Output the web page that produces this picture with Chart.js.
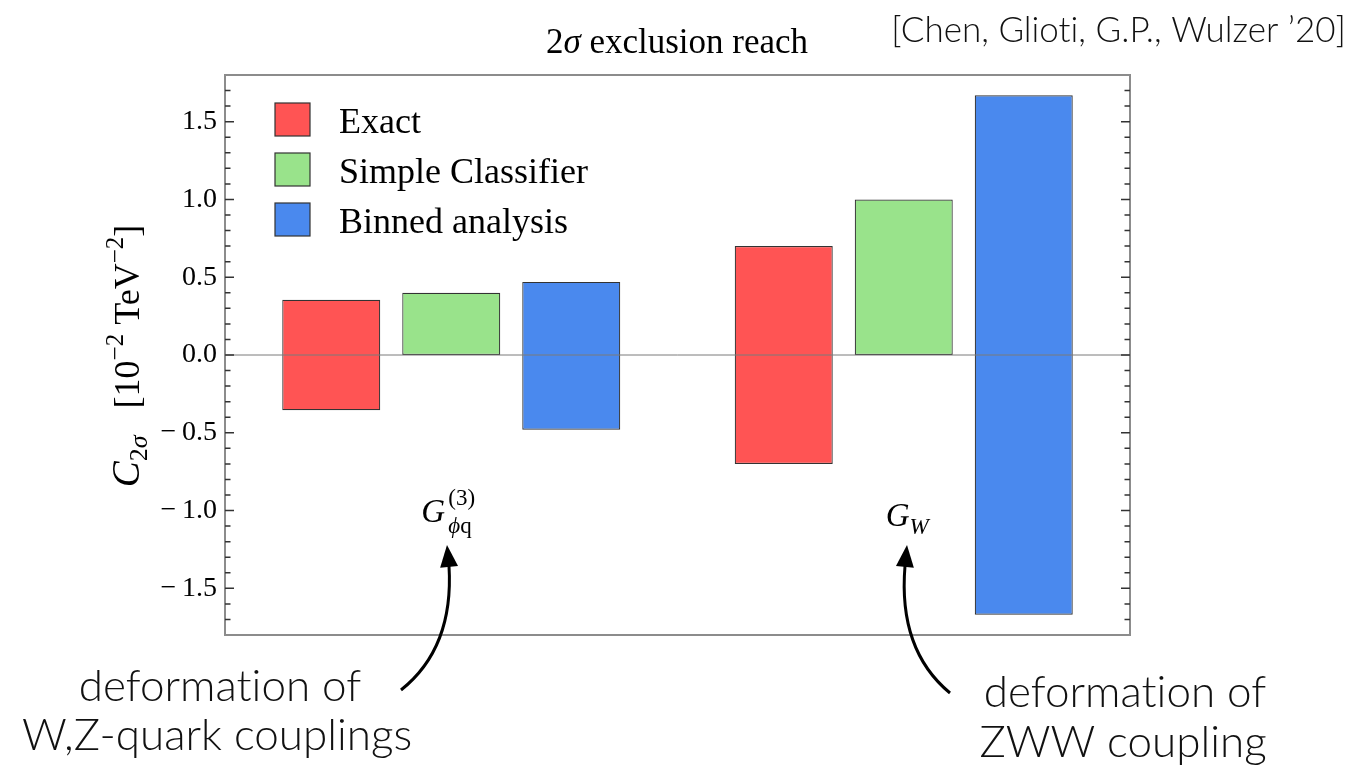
<!DOCTYPE html>
<html>
<head>
<meta charset="utf-8">
<script src="https://cdn.jsdelivr.net/npm/chart.js@4.4.0/dist/chart.umd.min.js"></script>
<style>
  html, body { margin: 0; background: #fff; }
  #wrap { width: 1356px; height: 770px; position: relative; }
</style>
</head>
<body>
<div id="wrap"><canvas id="chart"></canvas></div>
<script>
// values (units: 10^-2 TeV^-2)
const categories = ['G_phiq3', 'G_W'];
const seriesNames = ['Exact', 'Simple Classifier', 'Binned analysis'];
const exactLow = [-0.355, -0.70];
const exactHigh = [0.355, 0.70];
const simpleLow = [0, 0];
const simpleHigh = [0.40, 1.00];
const binnedLow = [-0.48, -1.67];
const binnedHigh = [0.47, 1.67];
const yMajorTicks = [-1.5, -1.0, -0.5, 0.0, 0.5, 1.0, 1.5];
const yTickLabels = ['\u2212\u20091.5', '\u2212\u20091.0', '\u2212\u20090.5', '0.0', '0.5', '1.0', '1.5'];
const colors = ['#ff5454', '#99e38b', '#4a89ee'];

const SERIF = '"Liberation Serif", "DejaVu Serif", serif';
const SANS = 'Lato, "Open Sans", sans-serif';
const NL = '\u200c'; // keeps Lato from joining "ti"

const pairs = (lo, hi) => lo.map((v, i) => [v, hi[i]]);

// draws a list of text pieces: {t, size, italic, dy}
function richText(ctx, parts, x, y, align) {
  let total = 0;
  parts.forEach(p => {
    ctx.font = (p.italic ? 'italic ' : '') + p.size + 'px ' + SERIF;
    p.w = ctx.measureText(p.t).width;
    total += p.w;
  });
  let cx = align === 'center' ? x - total / 2 : x;
  ctx.textAlign = 'left';
  ctx.textBaseline = 'alphabetic';
  parts.forEach(p => {
    ctx.font = (p.italic ? 'italic ' : '') + p.size + 'px ' + SERIF;
    ctx.fillText(p.t, cx, y + (p.dy || 0));
    cx += p.w;
  });
}

function arrow(ctx, x0, y0, cx, cy, x1, y1, tx, ty) {
  ctx.beginPath();
  ctx.moveTo(x0, y0);
  ctx.quadraticCurveTo(cx, cy, x1, y1);
  ctx.lineWidth = 3;
  ctx.strokeStyle = '#000';
  ctx.stroke();
  const ang = Math.atan2(ty - y1, tx - x1);
  const len = 22, half = 9;
  ctx.beginPath();
  ctx.moveTo(tx, ty);
  ctx.lineTo(tx - len * Math.cos(ang) + half * Math.sin(ang), ty - len * Math.sin(ang) - half * Math.cos(ang));
  ctx.lineTo(tx - len * Math.cos(ang) - half * Math.sin(ang), ty - len * Math.sin(ang) + half * Math.cos(ang));
  ctx.closePath();
  ctx.fillStyle = '#000';
  ctx.fill();
}

const decor = {
  id: 'decor',
  afterDatasetsDraw(chart) {
    const { ctx, chartArea: a, scales: { x, y } } = chart;
    ctx.save();

    // zero line
    const y0 = y.getPixelForValue(0);
    ctx.strokeStyle = '#7a7a7a';
    ctx.lineWidth = 1;
    ctx.beginPath();
    ctx.moveTo(a.left, y0);
    ctx.lineTo(a.right, y0);
    ctx.stroke();

    // frame
    ctx.strokeStyle = '#8c8c8c';
    ctx.lineWidth = 2;
    ctx.strokeRect(a.left, a.top, a.right - a.left, a.bottom - a.top);

    // inward ticks, minor every 0.1
    ctx.strokeStyle = '#333';
    ctx.lineWidth = 1.5;
    for (let i = -17; i <= 17; i++) {
      const p = y.getPixelForValue(i / 10);
      const len = i % 5 === 0 ? 9 : 5.5;
      ctx.beginPath();
      ctx.moveTo(a.left, p);
      ctx.lineTo(a.left + len, p);
      ctx.moveTo(a.right, p);
      ctx.lineTo(a.right - len, p);
      ctx.stroke();
    }

    // legend inside the frame
    chart.data.datasets.forEach((ds, i) => {
      const bx = a.left + 50, by = a.top + 28 + i * 50;
      ctx.fillStyle = ds.backgroundColor;
      ctx.fillRect(bx, by, 35, 33);
      ctx.strokeStyle = '#333';
      ctx.lineWidth = 1.2;
      ctx.strokeRect(bx, by, 35, 33);
      ctx.fillStyle = '#000';
      ctx.font = '36px ' + SERIF;
      ctx.textAlign = 'left';
      ctx.textBaseline = 'middle';
      ctx.fillText(ds.label, bx + 64, by + 21);
    });

    // category labels
    ctx.fillStyle = '#000';
    const c1 = x.getPixelForValue(0);
    richText(ctx, [{ t: 'G', size: 33, italic: true }], c1 - 30, 522);
    richText(ctx, [{ t: '\u03d5', size: 23, italic: true }, { t: 'q', size: 23 }], c1 - 3, 533);
    richText(ctx, [{ t: '(3)', size: 23 }], c1 - 3, 505);
    const c2 = x.getPixelForValue(1);
    richText(ctx, [{ t: 'G', size: 33, italic: true }, { t: 'W', size: 23, italic: true, dy: 8 }], c2 - 18, 526);

    ctx.restore();
  },
  afterDraw(chart) {
    const { ctx } = chart;
    ctx.save();
    ctx.fillStyle = '#000';

    // title
    richText(ctx, [{ t: '2', size: 35 }, { t: '\u03c3', size: 35, italic: true }, { t: ' exclusion reach', size: 35 }], 677, 53, 'center');

    // y axis title, rotated
    ctx.save();
    ctx.translate(139, 356);
    ctx.rotate(-Math.PI / 2);
    richText(ctx, [
      { t: 'C', size: 39, italic: true },
      { t: '2', size: 26, dy: 8 },
      { t: '\u03c3', size: 26, italic: true, dy: 8 },
      { t: '   [10', size: 36 },
      { t: '\u22122', size: 25, dy: -16 },
      { t: ' TeV', size: 36 },
      { t: '\u22122', size: 25, dy: -16 },
      { t: ']', size: 36 }
    ], 0, 0, 'center');
    ctx.restore();

    // citation and annotations
    ctx.fillStyle = '#111';
    ctx.font = '300 35px ' + SANS;
    ctx.textAlign = 'right';
    ctx.textBaseline = 'alphabetic';
    ctx.fillText('[Chen, Gliot' + NL + 'i, G.P., Wulzer \u201920]', 1346, 42);

    ctx.font = '300 44px ' + SANS;
    ctx.textAlign = 'center';
    ctx.fillText('deformat' + NL + 'ion of', 220, 701);
    ctx.fillText('W,Z-quark couplings', 217, 750);
    ctx.fillText('deformat' + NL + 'ion of', 1125, 707);
    ctx.fillText('ZWW coupling', 1123, 757);

    arrow(ctx, 401, 690, 454, 648, 449, 566, 447, 545);
    arrow(ctx, 950, 693, 898, 650, 905, 566, 907, 545);
    ctx.restore();
  }
};

new Chart(document.getElementById('chart'), {
  type: 'bar',
  data: {
    labels: categories,
    datasets: [
      { label: seriesNames[0], data: pairs(exactLow, exactHigh), backgroundColor: colors[0] },
      { label: seriesNames[1], data: pairs(simpleLow, simpleHigh), backgroundColor: colors[1] },
      { label: seriesNames[2], data: pairs(binnedLow, binnedHigh), backgroundColor: colors[2] }
    ].map(ds => Object.assign(ds, {
      borderColor: '#333',
      borderWidth: 1.2,
      borderSkipped: false,
      categoryPercentage: 0.7956,
      barPercentage: 0.8167
    }))
  },
  options: {
    responsive: true,
    maintainAspectRatio: false,
    animation: false,
    layout: { padding: { top: 75, bottom: 135, left: 0, right: 226 } },
    plugins: { legend: { display: false }, tooltip: { enabled: false } },
    scales: {
      x: { display: false },
      y: {
        min: -1.8,
        max: 1.8,
        afterBuildTicks: s => { s.ticks = yMajorTicks.map(v => ({ value: v })); },
        afterFit: s => { s.width = 225; },
        grid: { display: false, drawTicks: false },
        border: { display: false },
        ticks: {
          padding: 8,
          color: '#000',
          font: { family: SERIF, size: 28 },
          callback: (v) => {
            const i = yMajorTicks.findIndex(t => Math.abs(t - v) < 1e-6);
            return i >= 0 ? yTickLabels[i] : '';
          }
        }
      }
    }
  },
  plugins: [decor]
});
</script>
</body>
</html>
